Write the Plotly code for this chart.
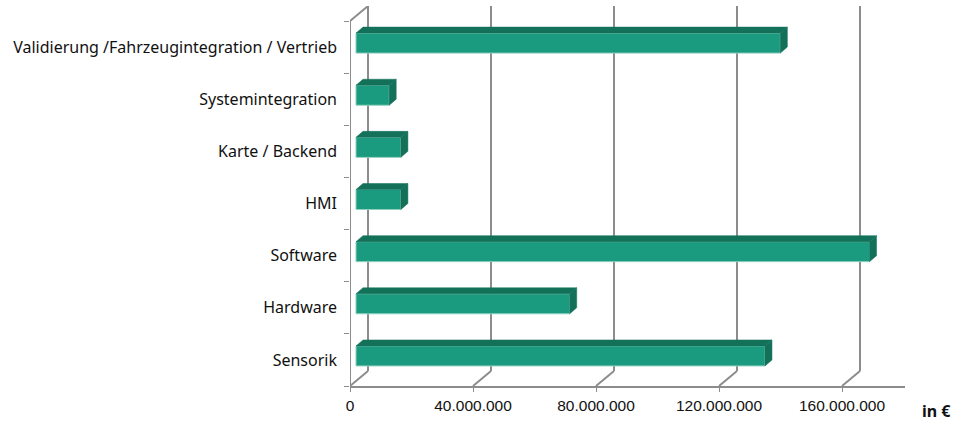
import plotly.graph_objects as go

# Categories listed bottom to top, values in euro
categories = ["Sensorik", "Hardware", "Software", "HMI", "Karte / Backend",
              "Systemintegration", "Validierung /Fahrzeugintegration / Vertrieb"]
values = [133e6, 69.5e6, 167e6, 14.6e6, 14.6e6, 10.8e6, 138e6]
tick_values = [0, 40e6, 80e6, 120e6, 160e6]

# Plot geometry (pixels)
W, H = 957, 421
ML, MR, MT, MB = 350, 52, 6, 35
PW, PH = W - ML - MR, H - MT - MB
PX_PER_40M = 123.0          # horizontal scale of the front axis
PX_PER_CAT = 52.14          # vertical size of one category slot
X_MAX = PW / PX_PER_40M * 40e6
Y_MAX = PH / PX_PER_CAT


def dxv(px):
    return px / PX_PER_40M * 40e6


def dyv(px):
    return px / PX_PER_CAT


# 3D look: wall depth, bar position inside the depth, bar thickness
WALL_DX, WALL_DY = 18, 15
BAR_OFF_X, BAR_OFF_Y = 6, 4
BAR_DX, BAR_DY = 7, 6
BAR_H = 20

FRONT = "#1a9a7e"
DARK = "#13715a"
GRID = "#8c8c8c"

centers = [i + 0.5 for i in range(len(categories))]
bw = dyv(BAR_H)

fig = go.Figure()

# front faces of the bars
fig.add_trace(go.Bar(
    x=values, y=centers, orientation="h", width=bw,
    marker=dict(color=FRONT, line=dict(color="#8fd0bf", width=1)),
    xaxis="x2", yaxis="y2", hoverinfo="skip", showlegend=False,
))

# top and side faces
tx, ty, sx, sy = [], [], [], []
ddx, ddy = dxv(BAR_DX), dyv(BAR_DY)
for v, c in zip(values, centers):
    top, bot = c + bw / 2, c - bw / 2
    tx += [0, v, v + ddx, ddx, 0, None]
    ty += [top, top, top + ddy, top + ddy, top, None]
    sx += [v, v + ddx, v + ddx, v, v, None]
    sy += [bot, bot + ddy, top + ddy, top, bot, None]
for px_, py_ in ((tx, ty), (sx, sy)):
    fig.add_trace(go.Scatter(
        x=px_, y=py_, mode="lines", fill="toself", fillcolor=DARK,
        line=dict(color=DARK, width=0.5), xaxis="x2", yaxis="y2",
        hoverinfo="skip", showlegend=False,
    ))

# walls: back gridlines, floor diagonals, left edge
shapes = []
wx, wy = dxv(WALL_DX), dyv(WALL_DY)
for t in tick_values:
    shapes.append(dict(type="line", xref="x", yref="y", x0=t + wx, x1=t + wx,
                       y0=wy, y1=Y_MAX, line=dict(color=GRID, width=2), layer="below"))
    shapes.append(dict(type="line", xref="x", yref="y", x0=t, x1=t + wx,
                       y0=0, y1=wy, line=dict(color=GRID, width=2), layer="below"))
shapes.append(dict(type="line", xref="x", yref="y", x0=0, x1=0, y0=0, y1=len(categories),
                   line=dict(color=GRID, width=2), layer="below"))
shapes.append(dict(type="line", xref="x", yref="y", x0=0, x1=wx, y0=len(categories),
                   y1=len(categories) + wy, line=dict(color=GRID, width=2), layer="below"))

fig.update_layout(
    width=W, height=H,
    margin=dict(l=ML, r=MR, t=MT, b=MB),
    paper_bgcolor="white", plot_bgcolor="white",
    separators=",.",
    shapes=shapes,
    xaxis=dict(range=[0, X_MAX], tickmode="array", tickvals=tick_values,
               tickformat=",d", showgrid=False, zeroline=False,
               showline=True, linecolor=GRID, linewidth=2,
               ticks="outside", ticklen=4, tickcolor=GRID, tickwidth=1,
               tickfont=dict(family="Liberation Sans", size=15.5, color="#111")),
    yaxis=dict(range=[0, Y_MAX], tickmode="array", tickvals=centers,
               ticktext=categories, showgrid=False, zeroline=False,
               showline=False, ticks="", ticklabelstandoff=12,
               minor=dict(tickmode="array", tickvals=list(range(len(categories) + 1)),
                          ticks="outside", ticklen=5, tickcolor=GRID, tickwidth=1,
                          showgrid=False),
               tickfont=dict(family="Noto Sans", size=16, color="#111")),
    xaxis2=dict(overlaying="x", range=[-dxv(BAR_OFF_X), X_MAX - dxv(BAR_OFF_X)],
                visible=False),
    yaxis2=dict(overlaying="y", range=[-dyv(BAR_OFF_Y), Y_MAX - dyv(BAR_OFF_Y)],
                visible=False),
    annotations=[dict(text="<b>in €</b>", xref="paper", yref="paper",
                      x=(936 - ML) / PW, y=-(411 - (H - MB)) / PH,
                      xanchor="center", yanchor="middle", showarrow=False,
                      font=dict(family="Noto Sans", size=16, color="#111"))],
)

fig.write_html("out.html")
